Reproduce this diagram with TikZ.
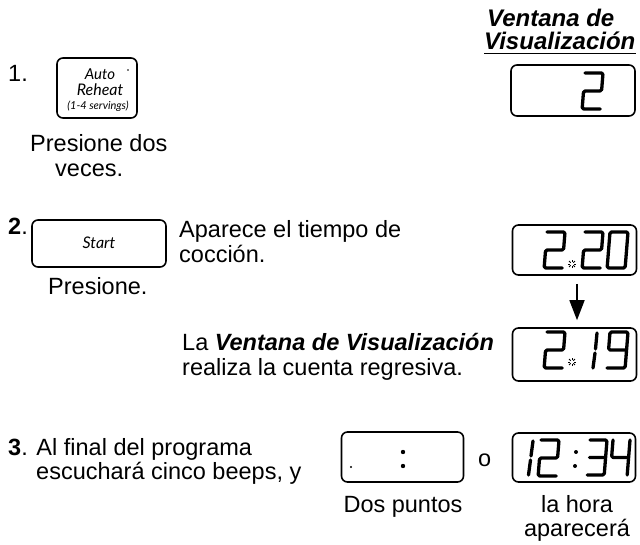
\documentclass[tikz,border=0pt]{standalone}
\usepackage{fontspec}
\setmainfont{Liberation Sans}
\newfontfamily\btnfont{Lato}
\usetikzlibrary{arrows.meta}
\newcommand\segdig[3]{%
  \begin{scope}[shift={(#1,#2)},xslant=0.08]
  \ifcase#3
    \draw[segline] (0,0) rectangle (18,36);%0
  \or
    \draw[segline] (18,1) -- (18,17) (18,19) -- (18,35);%1
  \or
    \draw[segline] (0,0) -- (18,0) -- (18,18) -- (0,18) -- (0,36) -- (18,36);%2
  \or
    \draw[segline] (0,0) -- (17,0) -- (17,35) -- (0,35) (1,17.5) -- (17,17.5);%3
  \or
    \draw[segline] (0,0) -- (0,17.5) -- (17,17.5) (17,0) -- (17,35);%4
  \or\or\or\or\or
    \draw[segline] (18,18) -- (0,18) -- (0,0) -- (18,0) -- (18,36) -- (0,36);%9
  \fi
  \end{scope}}
\newcommand\asterisk[2]{%
  \foreach \a in {0,45,...,315}{\draw[line width=0.9pt] (#1,#2) ++(\a:1.8) -- ++(\a:2.4);}}
\begin{document}
\begin{tikzpicture}[x=1pt,y=-1pt,
  txt/.style={anchor=base west,inner sep=0pt,font=\fontsize{23.5}{25}\selectfont},
  ctxt/.style={anchor=base,inner sep=0pt,font=\fontsize{23.5}{25}\selectfont},
  hd/.style={anchor=base west,inner sep=0pt,font=\fontsize{24}{26}\selectfont\bfseries\itshape},
  dispbox/.style={draw,line width=1.6pt,rounded corners=6pt,minimum width=124pt,minimum height=51pt,inner sep=0pt},
  btnbox/.style={draw,line width=1.6pt,rounded corners=6pt,inner sep=0pt},
  btntxt/.style={anchor=base,inner sep=0pt,font=\btnfont\itshape},
  segline/.style={line width=3.3pt,line cap=round,line join=round,rounded corners=1.5pt},
  arr/.style={line width=1.6pt,-{Triangle[length=20pt,width=15pt]}},
]
\useasboundingbox (0,0) rectangle (640,545);

% heading
\node[hd] (h1) at (487,27) {Ventana de};
\node[hd] (h2) at (484,50) {Visualización};
\draw[line width=1.5pt] (h2.south west) ++(0,3) coordinate (u1) -- (u1 -| h2.south east);

% step 1
\node[txt] (n1) at (8,82) {1.};
\node[btnbox,minimum width=80pt,minimum height=60pt] (b1) at (97,88) {};
\node[btntxt,font=\btnfont\itshape\fontsize{15}{16}\selectfont] (b1a) at (100,80) {Auto};
\node[btntxt,font=\btnfont\itshape\fontsize{16}{16}\selectfont] (b1b) at (100,96) {Reheat};
\node[btntxt,font=\btnfont\itshape\fontsize{11}{12}\selectfont] (b1c) at (98,110) {(1-4 servings)};
\fill (128,70) circle (0.9);
\node[txt] (p1) at (30,152) {Presione dos};
\node[txt] (p1b) at (55,177) {veces.};
\node[dispbox] (d1) at (573,90.5) {};
\segdig{585}{73}{2}

% step 2
\node[txt] (n2) at (8,235) {\textbf{2}.};
\node[btnbox,minimum width=134pt,minimum height=47pt] (b2) at (99,243.5) {};
\node[btntxt,font=\btnfont\itshape\fontsize{16}{16}\selectfont] (b2t) at (99,249) {Start};
\node[txt] (a1) at (179,238) {Aparece el tiempo de};
\node[txt] (a2) at (179,263) {cocción.};
\node[txt] (p2) at (48,295) {Presione.};
\node[dispbox,minimum height=50pt] (d2) at (574.5,250) {};
\segdig{547}{232}{2}
\asterisk{572}{264}
\segdig{585}{232}{2}
\segdig{610}{232}{0}
\node[txt] (l1) at (182,350) {La \textbf{\textit{Ventana de Visualización}}};
\node[txt] (l2) at (182,375) {realiza la cuenta regresiva.};
\node[dispbox,minimum height=53pt] (d3) at (574.5,354.5) {};
\segdig{547}{332}{2}
\asterisk{572}{362}
\draw[segline] (597,333) -- (595.5,349) (595,353) -- (593,368);
\segdig{610}{332}{9}
\draw[arr,shorten <=8pt,shorten >=7pt] ([xshift=2.5pt]d2.south) -- ([xshift=2.5pt]d3.north);

% step 3
\node[txt] (n3) at (8,455) {\textbf{3}. Al final del programa};
\node[txt] (n3b) at (36,479) {escuchará cinco beeps, y};
\node[dispbox,minimum width=122pt,minimum height=50pt] (d4) at (402.5,457) {};
\fill (403,452) circle (2.2) (403,466) circle (2.2) (351,467) circle (1.2);
\node[txt] (o) at (478,466) {o};
\node[dispbox,minimum width=123pt,minimum height=49pt] (d5) at (574,457.5) {};
\draw[segline] (533,441) -- (531,456) (530.5,460) -- (528.5,475);
\segdig{541}{440}{2}
\fill (576,452) circle (2) (575,466) circle (2);
\segdig{590}{440}{3}
\segdig{613}{440}{4}
\node[ctxt] (c1) at (403,512) {Dos puntos};
\node[ctxt] (c2) at (577,512) {la hora};
\node[ctxt] (c3) at (577,536) {aparecerá};
\end{tikzpicture}
\end{document}
